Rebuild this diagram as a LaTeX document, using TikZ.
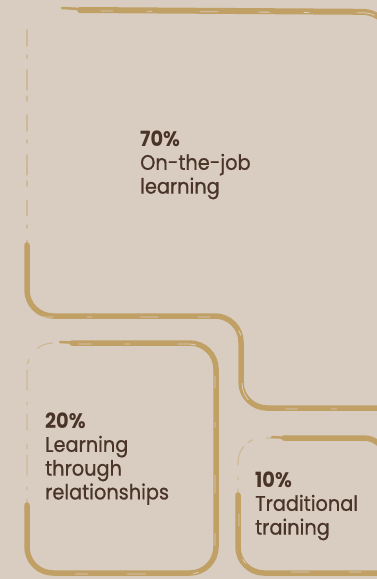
\documentclass[tikz,border=0pt]{standalone}
\usepackage{fontspec}
\setmainfont[FakeStretch=0.92, UprightFeatures={FakeBold=0.7}]{Poppins}
\definecolor{paper}{HTML}{D9CDC2}
\definecolor{ochre}{HTML}{C1A065}
\definecolor{ink}{HTML}{4A3429}
\begin{document}
\begin{tikzpicture}[x=1pt,y=-1pt,
  brush/.style={draw=ochre, line width=5.5pt, line cap=round, line join=round,
    rounded corners=#1},
  brush/.default=26pt,
  faint/.style={draw=ochre, line width=1.2pt, opacity=.45, line cap=round,
    rounded corners=#1,
    dash pattern=on 16pt off 9pt on 3pt off 12pt on 20pt off 6pt on 5pt off 14pt},
  faint/.default=26pt,
  streak/.style={draw=paper, line width=0.8pt, line cap=round, rounded corners=#1,
    dash pattern=on 12pt off 34pt on 5pt off 48pt on 18pt off 40pt},
  streak/.default=26pt,
  label/.style={font=\fontsize{21}{23.8}\selectfont, text=ink, inner sep=0pt,
    anchor=base west}]
\useasboundingbox (0,0) rectangle (377,579);
\fill[paper] (0,0) rectangle (377,579);
\clip (0,0) rectangle (377,579);

% ---- large step-shaped frame (70%) ----
\draw[brush, line width=2.5pt] (62,8) -- (90,9.5);
\draw[brush=30pt, line width=6pt] (80,10) -- (392,12) -- (392,90);
\draw[faint] (27,30) -- (27,255);
\draw[brush] (27,245) -- (27,316) -- (241,316) -- (241,408) -- (395,408);
\begin{scope}[shift={(1,1)}]
  \draw[streak=30pt] (100,10) -- (392,12) -- (392,90);
  \draw[streak] (40,316) -- (241,316) -- (241,408) -- (395,408);
\end{scope}

% ---- lower left frame (20%) ----
\draw[faint] (27,515) -- (27,343) -- (62,343);
\draw[brush, line width=2.5pt] (60,342) -- (80,343);
\draw[brush] (72,343) -- (216,343) -- (216,573) -- (27,573) -- (27,505);
\begin{scope}[shift={(-1,1)}]
  \draw[streak] (80,343) -- (216,343) -- (216,573) -- (40,573);
\end{scope}

% ---- lower right frame (10%) ----
\draw[faint=24pt] (238,505) -- (238,438) -- (274,438);
\draw[brush, line width=2.5pt] (272,437) -- (288,438);
\draw[brush=22pt] (284,438) -- (386,438) -- (386,520);
\draw[brush] (238,495) -- (238,573) -- (395,573);
\begin{scope}[shift={(1,-1)}]
  \draw[streak] (238,515) -- (238,573) -- (395,573);
\end{scope}

% ---- labels ----
\node[label] (t70) at (140,146)
  {\begin{tabular}[t]{@{}l@{}}\textbf{70\%}\\On-the-job\\learning\end{tabular}};
\node[label] (t20) at (45,428)
  {\begin{tabular}[t]{@{}l@{}}\textbf{20\%}\\Learning\\through\\relationships\end{tabular}};
\node[label] (t10) at (255,487)
  {\begin{tabular}[t]{@{}l@{}}\textbf{10\%}\\Traditional\\training\end{tabular}};
\end{tikzpicture}
\end{document}
